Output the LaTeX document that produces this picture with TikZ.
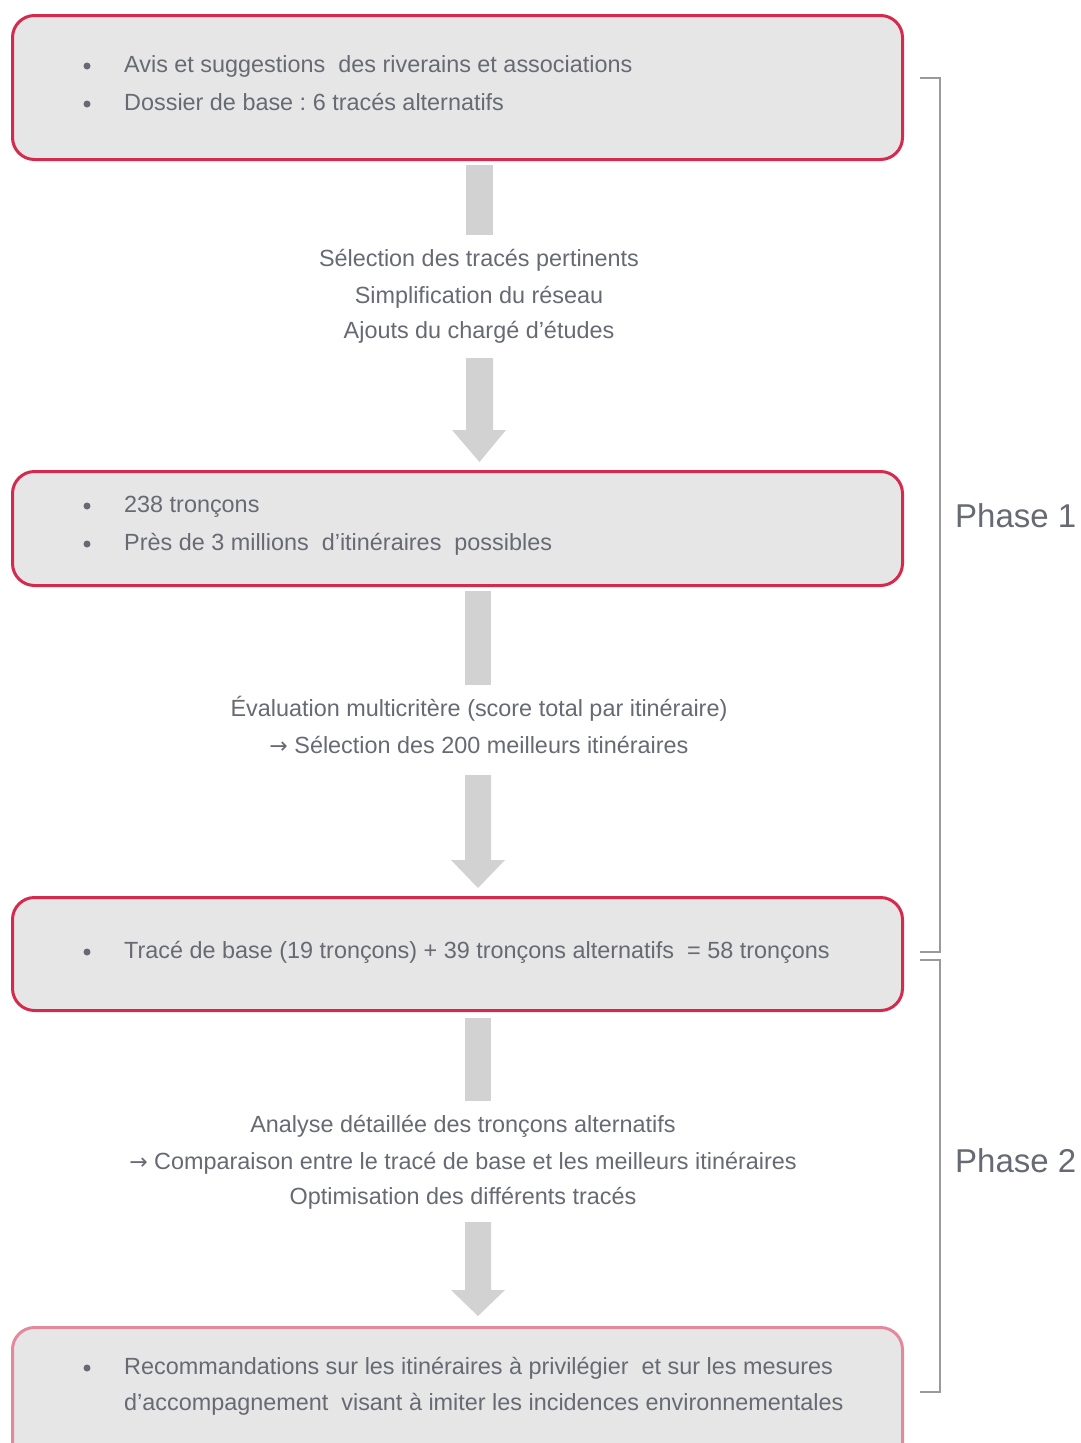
\documentclass[tikz,border=0pt]{standalone}
\usepackage{fontspec}
\setmainfont{Liberation Sans}
\newfontfamily\arrowfont{DejaVu Sans}
\frenchspacing
\definecolor{boxred}{HTML}{D42A4E}
\definecolor{boxpink}{HTML}{E3899E}
\definecolor{boxgray}{HTML}{E6E6E6}
\definecolor{txt}{HTML}{676A73}
\definecolor{arrowgray}{HTML}{D2D2D2}
\definecolor{brk}{HTML}{9A9A9A}
\tikzset{
  box/.style={draw=boxred, line width=3pt, fill=boxgray, rounded corners=22pt,
    minimum width=890pt, inner sep=0pt, anchor=north west},
  item/.style={anchor=mid west, text=txt, font=\fontsize{23.4}{28}\selectfont, inner sep=0pt},
  mid/.style={anchor=mid, text=txt, font=\fontsize{23.4}{28}\selectfont, inner sep=0pt},
  bul/.style={fill=txt, circle, minimum size=7pt, inner sep=0pt},
  blockarrow/.style={fill=arrowgray, draw=none},
  bracket/.style={draw=brk, line width=2.2pt},
  phase/.style={anchor=mid west, text=txt, font=\fontsize{33}{40}\selectfont, inner sep=0pt}
}
\newcommand{\rarr}{{\arrowfont\fontsize{22}{26}\selectfont →}}
\begin{document}
\begin{tikzpicture}[x=1pt,y=-1pt]
\useasboundingbox (0,0) rectangle (1081,1443);
\clip (0,0) rectangle (1081,1443);
\fill[white] (0,0) rectangle (1081,1443);
% boxes
\node[box, minimum height=144pt] (b1) at (11,14) {};
\node[box, minimum height=114pt] (b2) at (11,470) {};
\node[box, minimum height=113pt] (b3) at (11,896) {};
\node[box, draw=boxpink, minimum height=150pt] (b4) at (11,1326) {};
% box 1 text
\node[bul] (u1) at (87,66) {};
\node[item] (t1) at (124,70) {Avis et suggestions \ des riverains et associations};
\node[bul] (u2) at (87,104) {};
\node[item] (t2) at (124,108) {Dossier de base : 6 tracés alternatifs};
% box 2 text
\node[bul] (u3) at (87,506) {};
\node[item] (t3) at (124,510) {238 tronçons};
\node[bul] (u4) at (87,544) {};
\node[item] (t4) at (124,548) {Près de 3 millions \ d’itinéraires \ possibles};
% box 3 text
\node[bul] (u5) at (87,952) {};
\node[item] (t5) at (124,956) {Tracé de base (19 tronçons) + 39 tronçons alternatifs \ = 58 tronçons};
% box 4 text
\node[bul] (u6) at (87,1368) {};
\node[item] (t6) at (124,1372) {Recommandations sur les itinéraires à privilégier \ et sur les mesures};
\node[item] (t7) at (124,1408) {d’accompagnement \ visant à imiter les incidences environnementales};
% middle texts
\node[mid] (m1) at (479,264) {Sélection des tracés pertinents};
\node[mid] (m2) at (479,301) {Simplification du réseau};
\node[mid] (m3) at (479,336) {Ajouts du chargé d’études};
\node[mid] (m4) at (479,714) {Évaluation multicritère (score total par itinéraire)};
\node[mid] (m5) at (479,751) {\rarr\ Sélection des 200 meilleurs itinéraires};
\node[mid] (m6) at (463,1130) {Analyse détaillée des tronçons alternatifs};
\node[mid] (m7) at (463,1167) {\rarr\ Comparaison entre le tracé de base et les meilleurs itinéraires};
\node[mid] (m8) at (463,1202) {Optimisation des différents tracés};
% block arrows
\fill[blockarrow] (466,165) rectangle (493,235);
\fill[blockarrow] (466,358) -- (493,358) -- (493,430) -- (506,430) -- (479.5,462) -- (452,430) -- (466,430) -- cycle;
\fill[blockarrow] (465,591) rectangle (491,685);
\fill[blockarrow] (465,775) -- (491,775) -- (491,860) -- (505,860) -- (478,888) -- (451,860) -- (465,860) -- cycle;
\fill[blockarrow] (465,1018) rectangle (491,1101);
\fill[blockarrow] (465,1222) -- (491,1222) -- (491,1290) -- (505,1290) -- (478,1316) -- (451,1290) -- (465,1290) -- cycle;
% brackets
\draw[bracket] (920,78) -- (940,78) -- (940,952) -- (920,952);
\draw[bracket] (920,960) -- (940,960) -- (940,1392) -- (920,1392);
\node[phase] (p1) at (955,525) {Phase 1};
\node[phase] (p2) at (955,1170) {Phase 2};
\end{tikzpicture}
\end{document}
